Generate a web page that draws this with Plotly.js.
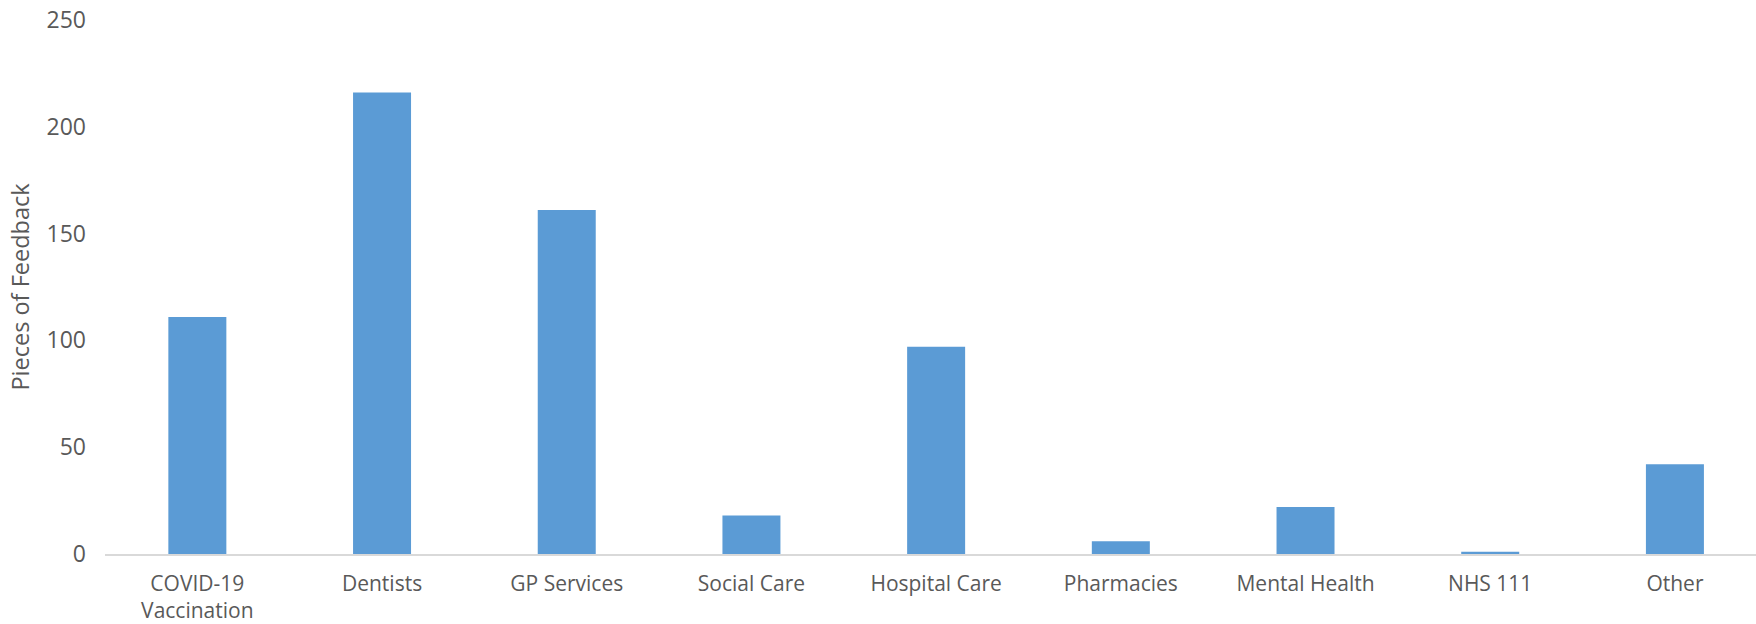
<!DOCTYPE html>
<html>
<head>
<meta charset="utf-8">
<script src="https://cdn.plot.ly/plotly-3.0.1.min.js"></script>
<style>html,body{margin:0;padding:0;background:#fff;}#chart{width:1756px;height:624px;}</style>
</head>
<body>
<div id="chart"></div>
<script>
const categories = ["COVID-19<br>Vaccination", "Dentists", "GP Services", "Social Care", "Hospital Care", "Pharmacies", "Mental Health", "NHS 111", "Other"];
const feedbackCounts = [111, 216, 161, 18, 97, 6, 22, 1, 42];
const yTickValues = [0, 50, 100, 150, 200, 250];

const textColor = "#595959";
const fontFamily = "Open Sans, sans-serif";

const trace = {
  type: "bar",
  x: categories.map((c, i) => i),
  y: feedbackCounts,
  marker: {color: "#5B9BD5", line: {width: 0}},
  hoverinfo: "y"
};

const layout = {
  width: 1756,
  height: 624,
  margin: {l: 105, r: 0, t: 19.5, b: 70, pad: 0},
  paper_bgcolor: "#ffffff",
  plot_bgcolor: "#ffffff",
  bargap: 0.686,
  showlegend: false,
  font: {family: fontFamily, color: textColor, size: 21},
  xaxis: {
    type: "linear",
    range: [-0.5, 8.439],
    tickmode: "array",
    tickvals: categories.map((c, i) => i),
    ticktext: categories,
    showgrid: false,
    zeroline: false,
    showline: true,
    linecolor: "#d9d9d9",
    linewidth: 1.5,
    ticks: "",
    ticklabelstandoff: 10,
    tickfont: {family: fontFamily, color: textColor, size: 21},
    automargin: false,
    fixedrange: true
  },
  yaxis: {
    range: [0, 250],
    tickmode: "array",
    tickvals: yTickValues,
    ticktext: yTickValues.map(String),
    showgrid: false,
    zeroline: false,
    showline: false,
    ticks: "",
    ticklabelstandoff: 18,
    tickfont: {family: fontFamily, color: textColor, size: 23},
    title: {text: "Pieces of Feedback", font: {family: fontFamily, color: textColor, size: 23.5}, standoff: 10},
    automargin: true,
    fixedrange: true
  }
};

Plotly.newPlot("chart", [trace], layout, {displayModeBar: false, staticPlot: true});
</script>
</body>
</html>
